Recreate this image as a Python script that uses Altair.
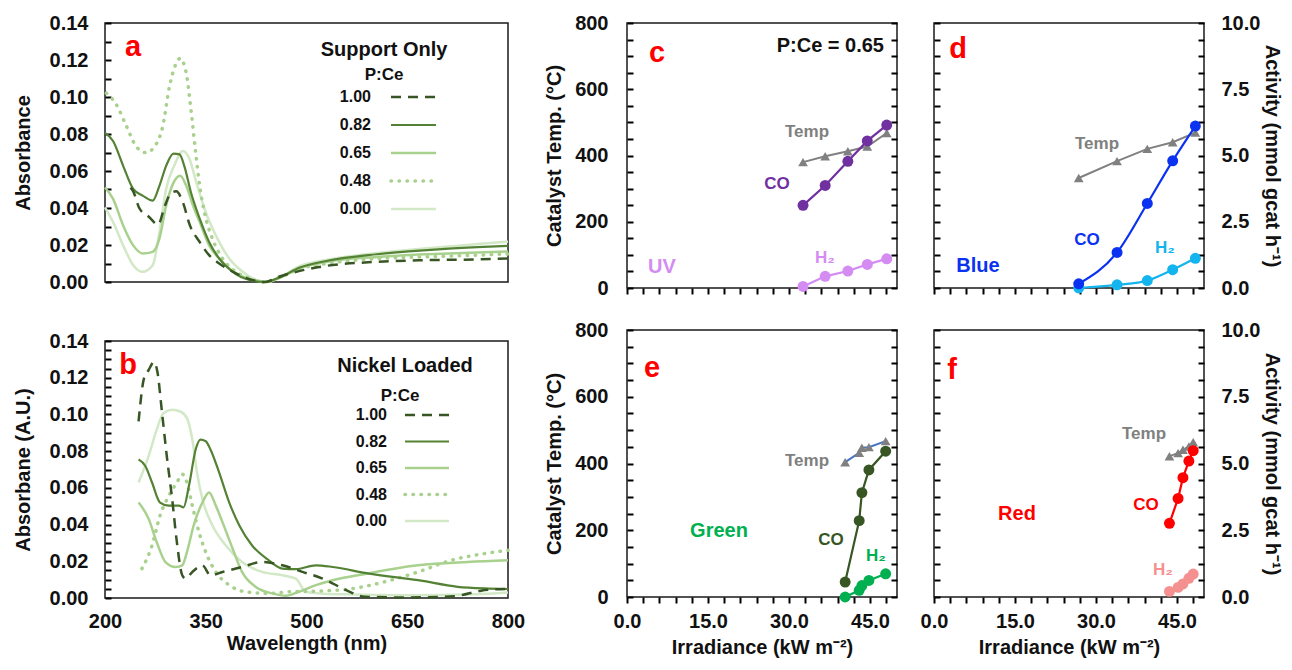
import altair as alt
import pandas as pd
import numpy as np

FONT = "Liberation Sans"
INK = "#111111"

# ---------------- panel a : support only (wavelength nm, absorbance) ----------------
a_wl_100 = [238, 242, 251, 266, 279, 289, 298, 306, 316, 326, 341, 355, 370, 395, 420, 438, 460, 490, 531, 605, 680, 754, 800]
a_ab_100 = [0.051, 0.049, 0.040, 0.035, 0.031, 0.041, 0.048, 0.049, 0.043, 0.031, 0.0216, 0.0145, 0.010, 0.0047, 0.001, 0.0, 0.003, 0.006, 0.0088, 0.0109, 0.0118, 0.0122, 0.0127]
a_wl_082 = [200, 212, 227, 242, 256, 271, 281, 291, 302, 311, 318, 328, 341, 355, 370, 390, 415, 438, 460, 490, 531, 605, 680, 754, 800]
a_ab_082 = [0.0806, 0.0762, 0.0628, 0.0503, 0.0467, 0.044, 0.052, 0.0628, 0.0694, 0.069, 0.0628, 0.0484, 0.0342, 0.0216, 0.0127, 0.0055, 0.0011, 0.0, 0.0025, 0.0078, 0.0115, 0.015, 0.0172, 0.0188, 0.0195]
a_wl_065 = [200, 212, 227, 242, 256, 271, 281, 291, 301, 312, 321, 331, 341, 355, 370, 395, 425, 440, 460, 490, 531, 605, 680, 754, 800]
a_ab_065 = [0.0511, 0.0449, 0.0306, 0.0198, 0.0154, 0.0163, 0.0234, 0.0413, 0.0529, 0.0574, 0.052, 0.0413, 0.0324, 0.0198, 0.0127, 0.0047, 0.0008, 0.0, 0.0022, 0.0075, 0.011, 0.0135, 0.015, 0.016, 0.0165]
a_wl_048 = [202, 217, 232, 246, 261, 276, 286, 296, 306, 312, 321, 328, 335, 341, 348, 360, 375, 395, 415, 438, 460, 490, 531, 605, 680, 754, 800]
a_ab_048 = [0.1021, 0.0958, 0.0842, 0.0735, 0.0699, 0.0744, 0.0842, 0.1057, 0.1182, 0.1209, 0.1128, 0.0932, 0.0699, 0.052, 0.0377, 0.0234, 0.0127, 0.0055, 0.002, 0.0, 0.0025, 0.0072, 0.010, 0.0127, 0.0136, 0.0145, 0.0152]
a_wl_000 = [200, 212, 227, 242, 256, 271, 281, 291, 303, 316, 326, 336, 350, 365, 385, 405, 430, 442, 460, 490, 531, 605, 680, 754, 800]
a_ab_000 = [0.0404, 0.0324, 0.0198, 0.0091, 0.0055, 0.0091, 0.027, 0.0503, 0.0628, 0.0708, 0.0663, 0.0538, 0.0377, 0.0252, 0.0127, 0.0055, 0.0005, 0.0, 0.0025, 0.0085, 0.012, 0.0157, 0.0183, 0.0205, 0.0218]

# ---------------- panel b : nickel loaded ----------------
b_wl_100 = [250, 258, 265, 273, 278, 285, 292, 300, 307, 315, 320, 330, 345, 357, 375, 404, 434, 464, 494, 524, 559, 586, 650, 720, 760, 800]
b_ab_100 = [0.0962, 0.1196, 0.1242, 0.1286, 0.1232, 0.1007, 0.0773, 0.0539, 0.0304, 0.0124, 0.0106, 0.0142, 0.0178, 0.0124, 0.0142, 0.0169, 0.0196, 0.0178, 0.0142, 0.0106, 0.0043, 0.0007, 0.0003, 0.001, 0.004, 0.005]
b_wl_082 = [250, 260, 270, 282, 295, 310, 317, 325, 335, 342, 350, 357, 370, 385, 400, 419, 444, 464, 484, 514, 539, 591, 666, 725, 765, 800]
b_ab_082 = [0.0755, 0.0719, 0.0629, 0.052, 0.0503, 0.0503, 0.0494, 0.0611, 0.0809, 0.0863, 0.0854, 0.0809, 0.0683, 0.052, 0.0395, 0.0286, 0.0205, 0.016, 0.0157, 0.0178, 0.0169, 0.0134, 0.0097, 0.0061, 0.0052, 0.0049]
b_wl_065 = [250, 265, 277, 290, 305, 315, 322, 332, 345, 355, 365, 375, 390, 404, 424, 449, 469, 489, 514, 539, 591, 666, 740, 800]
b_ab_065 = [0.052, 0.0431, 0.0304, 0.0196, 0.0169, 0.0178, 0.025, 0.0395, 0.052, 0.0575, 0.0503, 0.0412, 0.0269, 0.0142, 0.0061, 0.0025, 0.0012, 0.0034, 0.007, 0.0097, 0.0134, 0.0178, 0.0196, 0.0205]
b_wl_048 = [255, 270, 282, 295, 307, 315, 322, 330, 340, 350, 365, 385, 409, 444, 474, 520, 566, 616, 666, 715, 765, 800]
b_ab_048 = [0.016, 0.0286, 0.0449, 0.0557, 0.0629, 0.0674, 0.0629, 0.0503, 0.0358, 0.025, 0.0142, 0.007, 0.0034, 0.0025, 0.0034, 0.0038, 0.005, 0.0088, 0.0142, 0.0205, 0.0242, 0.026]
b_wl_000 = [250, 265, 277, 287, 300, 312, 322, 330, 337, 345, 360, 380, 404, 434, 464, 484, 499, 519, 560, 650, 750, 800]
b_ab_000 = [0.0629, 0.0773, 0.0917, 0.1007, 0.1025, 0.1016, 0.098, 0.0863, 0.0683, 0.0539, 0.0395, 0.0286, 0.0196, 0.0142, 0.0124, 0.0106, 0.0034, 0.0025, 0.002, 0.0015, 0.002, 0.003]

ratios = ["1.00", "0.82", "0.65", "0.48", "0.00"]

# ---------------- panels c-f : irradiance (kW m-2), temperature (C), activity ----------------
irr_uv = [32.6, 36.7, 40.9, 44.5, 48.1]
temp_uv = [380, 398, 413, 427, 468]
co_uv = [3.12, 3.87, 4.78, 5.55, 6.15]
h2_uv = [0.06, 0.44, 0.64, 0.89, 1.10]

irr_blue = [26.8, 33.9, 39.5, 44.2, 48.4]
temp_blue = [332, 383, 420, 440, 469]
co_blue = [0.16, 1.34, 3.19, 4.80, 6.11]
h2_blue = [0.0, 0.12, 0.28, 0.69, 1.12]

irr_green = [40.4, 43.0, 43.5, 44.8, 47.9]
temp_green = [404, 432, 447, 449, 467]
co_green = [0.56, 2.86, 3.91, 4.76, 5.46]
h2_green = [0.0, 0.25, 0.43, 0.62, 0.87]

irr_red = [43.6, 45.2, 46.1, 47.2, 48.0]
temp_red = [422, 431, 441, 451, 464]
co_red = [2.76, 3.69, 4.47, 5.09, 5.48]
h2_red = [0.21, 0.36, 0.49, 0.70, 0.86]

# tick values
abs_ticks_a = [round(v, 3) for v in np.arange(0, 0.1401, 0.01)]
abs_ticks_b = [round(v, 3) for v in np.arange(0, 0.1401, 0.005)]
wl_ticks = [200, 350, 500, 650, 800]
irr_ticks = list(range(0, 49, 3))
temp_ticks = list(range(0, 801, 50))
act_ticks = [i * 0.625 for i in range(17)]

TICK = 6

STYLE = {
    "1.00": dict(color="#375623", strokeWidth=2.5, strokeDash=[10, 7]),
    "0.82": dict(color="#548235", strokeWidth=2.2),
    "0.65": dict(color="#A9D18E", strokeWidth=2.5),
    "0.48": dict(color="#A9D18E", strokeWidth=3.5, strokeDash=[0.5, 7.5], strokeCap="round"),
    "0.00": dict(color="#D3E8C6", strokeWidth=2.5),
}


def txt(text, x, y, size, color=INK, align="center", opacity=1):
    return alt.Chart(pd.DataFrame({"t": [text]})).mark_text(
        align=align, baseline="middle", font=FONT, fontWeight="bold",
        fontSize=size, color=color, opacity=opacity
    ).encode(text="t:N", x=alt.value(x), y=alt.value(y))


def legend_line(key, x1, x2, y):
    return alt.Chart(pd.DataFrame({"k": [key]})).mark_rule(**STYLE[key]).encode(
        x=alt.value(x1), x2=alt.value(x2), y=alt.value(y))


def spectra_panel(series, letter, heading, ytitle, yticks, ylabel_expr, show_x, height,
                  letter_xy, head_xy, pce_xy, leg_x, leg_y0, leg_dy, line_x, extra=()):
    if show_x:
        xaxis = alt.Axis(values=wl_ticks, ticks=False, labelPadding=13, title="Wavelength (nm)",
                         titlePadding=2, labelFlush=False, labelOverlap=False)
        X = alt.X("wl:Q", scale=alt.Scale(domain=[200, 800]), axis=xaxis)
    else:
        X = alt.X("wl:Q", scale=alt.Scale(domain=[200, 800]), axis=None)
    yaxis = alt.Axis(values=yticks, labelExpr=ylabel_expr, ticks=True, tickSize=TICK, offset=-TICK,
                     labelPadding=17, title=ytitle, titlePadding=16, labelOverlap=False)
    Y = alt.Y("ab:Q", scale=alt.Scale(domain=[0, 0.14]), axis=yaxis)
    layers = []
    for key in ["0.00", "0.48", "0.65", "0.82", "1.00"]:
        wl, ab = series[key]
        df = pd.DataFrame({"wl": wl, "ab": ab})
        layers.append(alt.Chart(df).mark_line(interpolate="monotone", **STYLE[key]).encode(x=X, y=Y))
    layers.append(txt(letter, letter_xy[0], letter_xy[1], 29, "#FF0000"))
    layers.append(txt(heading, head_xy[0], head_xy[1], 20))
    layers.append(txt("P:Ce", pce_xy[0], pce_xy[1], 17))
    for i, key in enumerate(ratios):
        yy = leg_y0 + leg_dy * i
        layers.append(txt(key, leg_x, yy, 16, align="right"))
        layers.append(legend_line(key, line_x[0], line_x[1], yy))
    layers.extend(extra)
    return alt.layer(*layers).properties(width=403, height=height)


def activity_panel(irr, temp, co, h2, co_color, h2_color, temp_line_color, smooth,
                   left_labels, right_labels, x_labels, height, texts):
    if x_labels:
        xaxis = alt.Axis(values=irr_ticks, labelExpr="datum.value % 15 === 0 ? format(datum.value, '.1f') : ''",
                         ticks=True, tickSize=TICK, labelPadding=8, title="Irradiance (kW m⁻²)", titlePadding=6,
                         labelFlush=False, labelOverlap=False)
    else:
        xaxis = alt.Axis(values=irr_ticks, ticks=True, tickSize=TICK, labels=False, title=None)
    X = alt.X("irr:Q", scale=alt.Scale(domain=[0, 50]), axis=xaxis)
    if left_labels:
        laxis = alt.Axis(values=temp_ticks, labelExpr="datum.value % 200 === 0 ? datum.label : ''",
                         ticks=True, tickSize=TICK, offset=-TICK, labelPadding=19, title="Catalyst Temp. (°C)",
                         titlePadding=10, labelOverlap=False)
    else:
        laxis = alt.Axis(values=temp_ticks, ticks=True, tickSize=TICK, offset=-TICK, labels=False,
                         title=None, minExtent=21)
    if right_labels:
        raxis = alt.Axis(orient="right", values=act_ticks,
                         labelExpr="datum.value % 2.5 === 0 ? format(datum.value, '.1f') : ''",
                         ticks=True, tickSize=TICK, offset=-TICK, labelPadding=17, title="Activity (mmol gcat h⁻¹)",
                         titlePadding=2, labelOverlap=False)
    else:
        raxis = alt.Axis(orient="right", values=act_ticks, ticks=True, tickSize=TICK, offset=-TICK,
                         labels=False, title=None)

    tdf = pd.DataFrame({"irr": irr, "temp": temp})
    YT = alt.Y("temp:Q", scale=alt.Scale(domain=[0, 800]), axis=laxis)
    temp_layer = alt.layer(
        alt.Chart(tdf).mark_line(color=temp_line_color, strokeWidth=2).encode(x=X, y=YT),
        alt.Chart(tdf).mark_point(shape="triangle-up", filled=True, size=95, color="#808080", opacity=1).encode(x=X, y=YT),
    )
    co_df = pd.DataFrame({"irr": irr, "val": co})
    h2_df = pd.DataFrame({"irr": irr, "val": h2})
    YA = alt.Y("val:Q", scale=alt.Scale(domain=[0, 10]), axis=raxis)
    interp = "monotone" if smooth else "linear"
    act_layer = alt.layer(
        alt.Chart(h2_df).mark_line(strokeWidth=2.2, color=h2_color, interpolate=interp).encode(x=X, y=YA),
        alt.Chart(h2_df).mark_circle(size=120, opacity=1, color=h2_color).encode(x=X, y=YA),
        alt.Chart(co_df).mark_line(strokeWidth=2.2, color=co_color, interpolate=interp).encode(x=X, y=YA),
        alt.Chart(co_df).mark_circle(size=120, opacity=1, color=co_color).encode(x=X, y=YA),
    )
    return alt.layer(temp_layer, act_layer, *texts).resolve_scale(y="independent").properties(
        width=270, height=height)


sup = {"1.00": (a_wl_100, a_ab_100), "0.82": (a_wl_082, a_ab_082), "0.65": (a_wl_065, a_ab_065),
       "0.48": (a_wl_048, a_ab_048), "0.00": (a_wl_000, a_ab_000)}
nik = {"1.00": (b_wl_100, b_ab_100), "0.82": (b_wl_082, b_ab_082), "0.65": (b_wl_065, b_ab_065),
       "0.48": (b_wl_048, b_ab_048), "0.00": (b_wl_000, b_ab_000)}

expr_a = "round(datum.value*100) % 2 === 0 ? format(datum.value, '.2f') : ''"
expr_b = "round(datum.value*1000) % 20 === 0 ? format(datum.value, '.2f') : ''"

pa = spectra_panel(sup, "a", "Support Only", "Absorbance", abs_ticks_a, expr_a, False, 259,
                   (28, 24), (279, 27), (279, 52), 266, 74, 28, (286, 331),
                   extra=[txt(".", 2, -10, 8, "#ffffff", opacity=0)])
pb = spectra_panel(nik, "b", "Nickel Loaded", "Absorbane (A.U.)", abs_ticks_b, expr_b, True, 257,
                   (23, 24), (300, 25), (295, 55), 282, 74, 26.5, (300, 344))

GRAY = "#808080"
pc = activity_panel(irr_uv, temp_uv, co_uv, h2_uv, "#7030A0", "#D48CF2", GRAY, False,
                    True, False, False, 265,
                    [txt("c", 30, 30, 29, "#FF0000"), txt("P:Ce = 0.65", 257, 23, 20, align="right"),
                     txt("Temp", 180, 109, 17, GRAY), txt("CO", 150, 161, 17, "#7030A0"),
                     txt("UV", 35, 244, 20, "#D48CF2"), txt("H₂", 198, 235, 17, "#D48CF2")])
pd_ = activity_panel(irr_blue, temp_blue, co_blue, h2_blue, "#0A32F0", "#14B4EE", GRAY, True,
                     False, True, False, 265,
                     [txt("d", 24, 26, 29, "#FF0000"), txt("Temp", 163, 121, 17, GRAY),
                      txt("CO", 153, 217, 17, "#0A32F0"), txt("H₂", 231, 225, 17, "#14B4EE"),
                      txt("Blue", 44, 243, 20, "#0A32F0")])
pe = activity_panel(irr_green, temp_green, co_green, h2_green, "#375623", "#00B050", "#4472C4", False,
                    True, False, True, 267,
                    [txt("e", 25, 38, 29, "#FF0000"), txt("Temp", 180, 131, 17, GRAY),
                     txt("Green", 92, 201, 20, "#00B050"), txt("CO", 204, 210, 17, "#375623"),
                     txt("H₂", 249, 226, 17, "#00B050")])
pf = activity_panel(irr_red, temp_red, co_red, h2_red, "#FF0000", "#F59090", GRAY, False,
                    False, True, True, 267,
                    [txt("f", 18, 40, 29, "#FF0000"), txt("Temp", 210, 104, 17, GRAY),
                     txt("CO", 212, 175, 17, "#FF0000"), txt("Red", 83, 184, 20, "#FF0000"),
                     txt("H₂", 229, 240, 17, "#F59090")])

left = alt.vconcat(pa, pb, spacing=37)
right = alt.vconcat(alt.hconcat(pc, pd_, spacing=19), alt.hconcat(pe, pf, spacing=19), spacing=20)

chart = alt.hconcat(left, right, spacing=17).properties(
    padding={"left": 4, "top": 0, "right": 0, "bottom": 0}, background="white"
).configure_view(
    stroke="#1a1a1a", strokeWidth=1.5
).configure_axis(
    labelFont=FONT, titleFont=FONT, labelFontSize=20, titleFontSize=20,
    labelFontWeight="bold", titleFontWeight="bold", labelColor=INK, titleColor=INK,
    tickColor="#000000", tickWidth=2, tickOpacity=1, grid=False, domain=False, minExtent=0
)

chart.save("out.html", embed_options={"renderer": "svg", "actions": False})
